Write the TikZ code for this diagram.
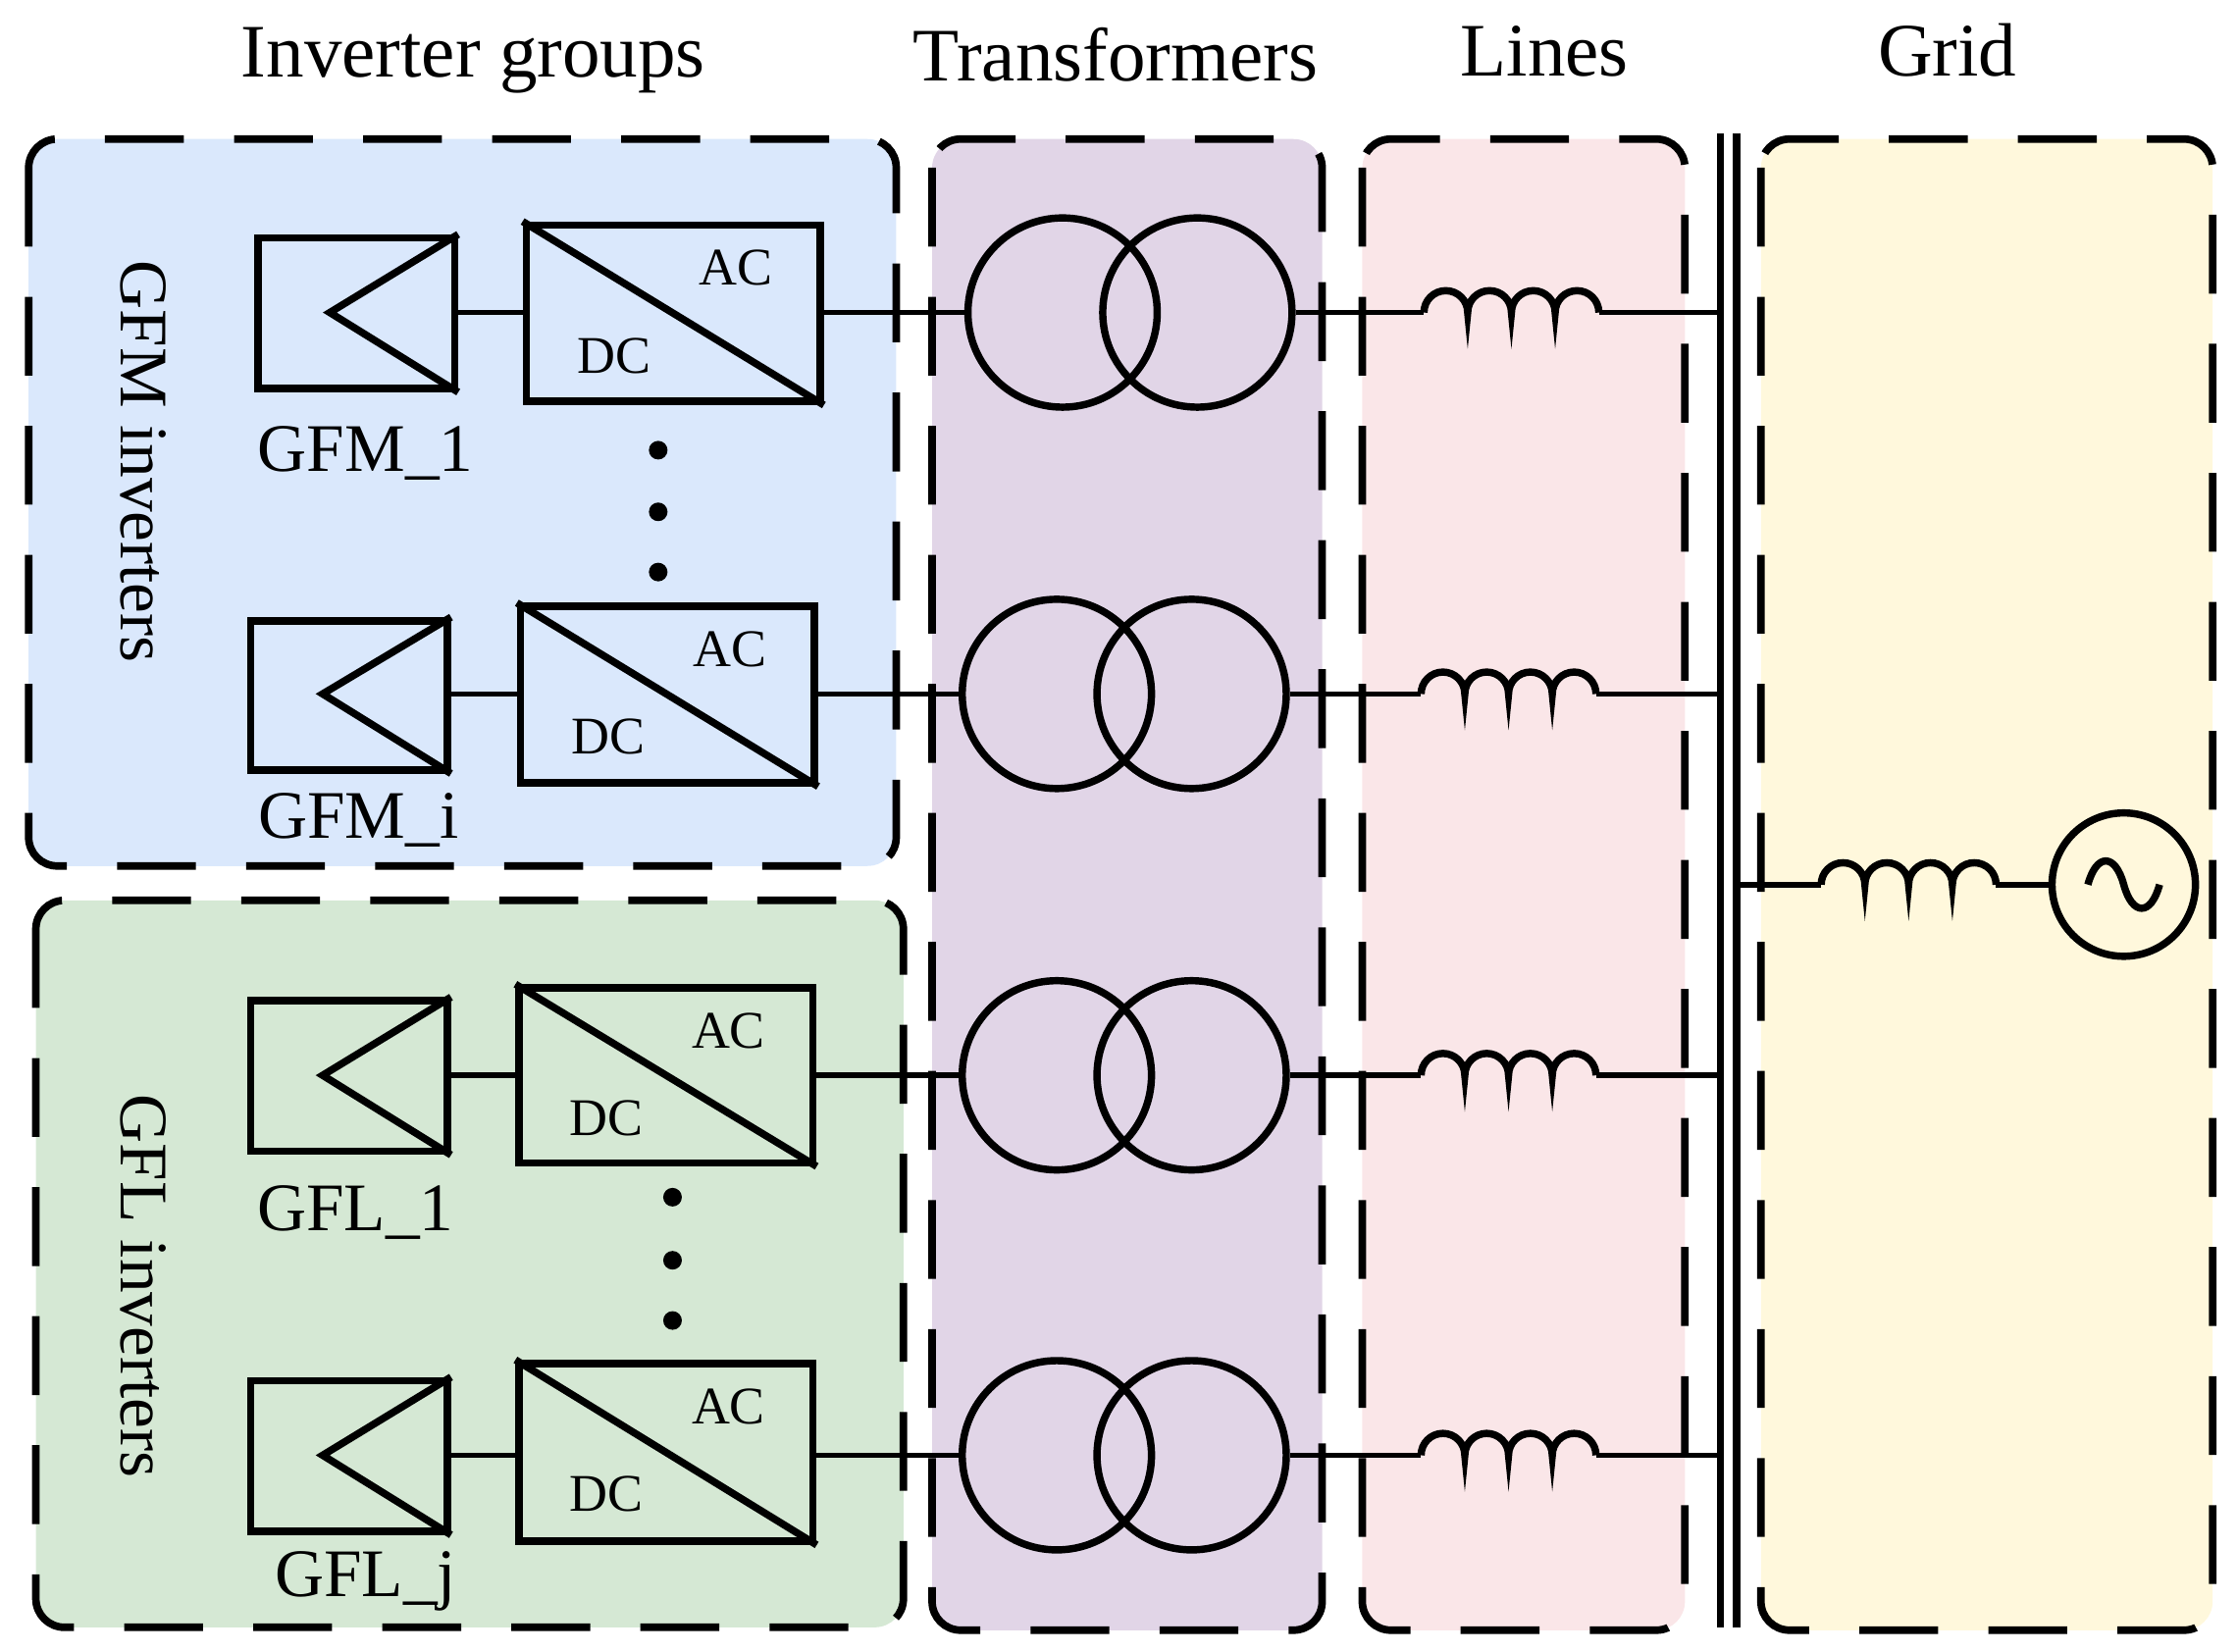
\documentclass[tikz,border=0pt]{standalone}
\usepackage{fontspec}
\setmainfont{Liberation Serif}
\begin{document}
\begin{tikzpicture}[x=0.1mm,y=-0.1mm,
  grp/.style={draw=black,line width=1.5pt,dash pattern=on 5.5mm off 3.5mm,rounded corners=2mm},
  el/.style={line width=1.45pt},
  wire/.style={line width=1.1pt},
  ttl/.style={font=\fontsize{15}{17}\selectfont},
  lab/.style={font=\fontsize{13.5}{15}\selectfont},
  acdc/.style={font=\fontsize{10.5}{12}\selectfont}]
\useasboundingbox (0,0) rectangle (1560,1152);
\definecolor{cblue}{HTML}{DAE8FC}
\definecolor{cgreen}{HTML}{D5E8D4}
\definecolor{cpurple}{HTML}{E1D5E7}
\definecolor{cpink}{HTML}{FAE6E8}
\definecolor{cyellow}{HTML}{FFF8DC}
\fill[cblue,rounded corners=2mm] (20,97) rectangle (625,604);
\fill[cgreen,rounded corners=2mm] (25,628) rectangle (630,1135);
\fill[cpurple,rounded corners=2mm] (650,97) rectangle (922,1137);
\fill[cpink,rounded corners=2mm] (950,97) rectangle (1175,1137);
\fill[cyellow,rounded corners=2mm] (1228,97) rectangle (1543,1137);
\draw[grp] (20,97) rectangle (625,604);
\draw[grp] (25,628) rectangle (630,1135);
\draw[grp] (650,97) rectangle (922,1137);
\draw[grp] (950,97) rectangle (1175,1137);
\draw[grp] (1228,97) rectangle (1543,1137);
\node[ttl] (t1) at (330,42) {Inverter groups};
\node[ttl] (t2) at (778,38) {Transformers};
\node[ttl] (t3) at (1077,36) {Lines};
\node[ttl] (t4) at (1358,35) {Grid};
\node[lab,rotate=-90] (g1) at (100,322) {GFM inverters};
\node[lab,rotate=-90] (g2) at (100,897) {GFL inverters};
% bus
\draw[line width=1.4pt] (1200,93) -- (1200,1135);
\draw[line width=1.4pt] (1211,93) -- (1211,1135);
\coordinate (busA) at (1200,0);
\foreach \n/\px/\pxb/\pya/\pyb/\cxa/\cxb/\cya/\cyb/\yr/\ta/\tb/\lx/\lab/\lbx/\lby in {
 1/180/317/166/271/367/572/157/280/218/741/835/993/GFM\_1/255/316,
 2/175/312/433/537/363/568/423/546/484/737/831/991/GFM\_i/250/572,
 3/175/312/698/803/362/567/689/811/750/737/831/991/GFL\_1/248/846,
 4/175/312/963/1068/362/567/951/1075/1015/737/831/991/GFL\_j/255/1103}{
  \node[el,draw,minimum width={(\pxb-\px)*0.1mm},minimum height={(\pyb-\pya)*0.1mm},inner sep=0pt] (pv\n) at ({(\px+\pxb)/2},{(\pya+\pyb)/2}) {};
  \draw[el,line join=miter] (pv\n.north east) -- ({\px+50},\yr) -- (pv\n.south east);
  \node[el,draw,minimum width={(\cxb-\cxa)*0.1mm},minimum height={(\cyb-\cya)*0.1mm},inner sep=0pt] (cv\n) at ({(\cxa+\cxb)/2},{(\cya+\cyb)/2}) {};
  \draw[el] (cv\n.north west) -- (cv\n.south east);
  \node[acdc] at ({\cxa+146},{\cya+30}) {AC};
  \node[acdc] at ({\cxa+61},{\cya+91}) {DC};
  \node[lab] (lb\n) at (\lbx,\lby) {\lab};
  \draw[wire] (pv\n.east |- 0,\yr) -- (cv\n.west |- 0,\yr);
  \node[el,draw,circle,minimum size=13.2mm,inner sep=0pt] (ta\n) at (\ta,\yr) {};
  \node[el,draw,circle,minimum size=13.2mm,inner sep=0pt] (tb\n) at (\tb,\yr) {};
  \draw[wire] (cv\n.east |- 0,\yr) -- (ta\n.west);
  \coordinate (ls\n) at (\lx,\yr);
  \coordinate (le\n) at ({\lx+122},\yr);
  \draw[wire] (tb\n.east) -- (ls\n);
  \draw[el] (ls\n) arc (180:360:15.25) arc (180:360:15.25) arc (180:360:15.25) arc (180:360:15.25);
  \draw[wire] (le\n) -- (busA |- le\n);
}
\foreach \y in {314,357,399} \fill (459,\y) circle (6.5);
\foreach \y in {835,879,921} \fill (469,\y) circle (6.5);
% grid branch
\coordinate (gs) at (1270,617);
\coordinate (ge) at (1392,617);
\coordinate (busB) at (1211,617);
\node[el,draw,circle,minimum size=10mm,inner sep=0pt] (src) at (1481,617) {};
\draw[wire] (busB) -- (gs);
\draw[el] (gs) arc (180:360:15.25) arc (180:360:15.25) arc (180:360:15.25) arc (180:360:15.25);
\draw[wire] (ge) -- (src.west);
\draw[el] (1456,617) .. controls (1462,595) and (1475,595) .. (1481,617) .. controls (1487,639) and (1500,639) .. (1506,617);
\end{tikzpicture}
\end{document}
